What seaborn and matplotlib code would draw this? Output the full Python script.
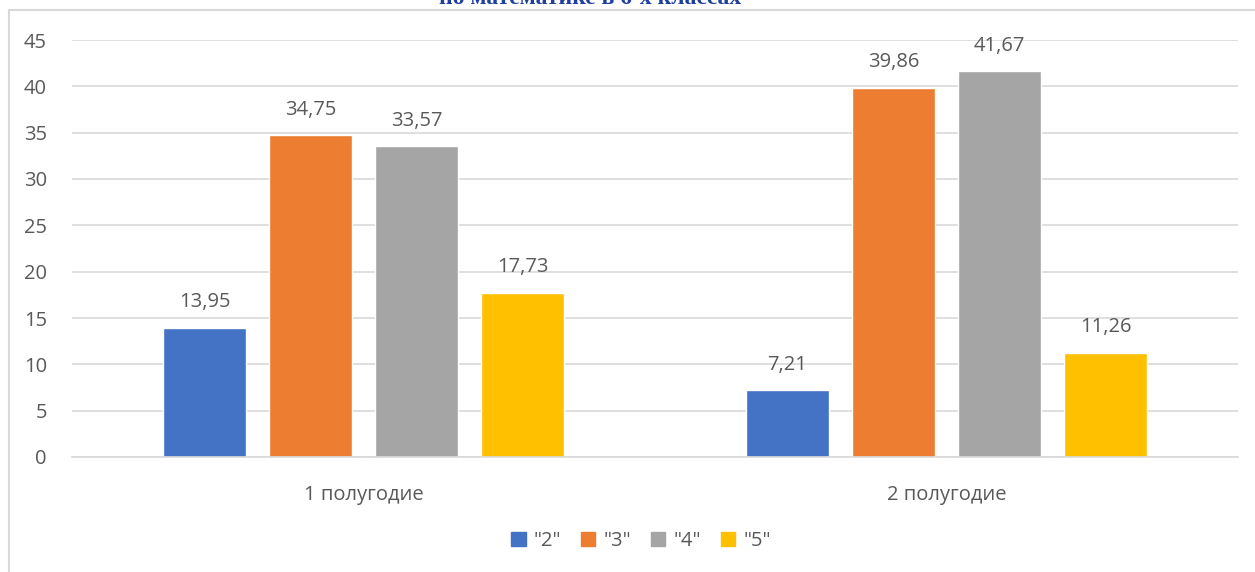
import pandas as pd
import seaborn as sns
import matplotlib.pyplot as plt
from matplotlib.patches import Rectangle
from matplotlib.lines import Line2D

# data
periods = ["1 полугодие", "2 полугодие"]
grades = ['"2"', '"3"', '"4"', '"5"']
grade2 = [13.95, 7.21]
grade3 = [34.75, 39.86]
grade4 = [33.57, 41.67]
grade5 = [17.73, 11.26]
colors = ["#4472C4", "#ED7D31", "#A5A5A5", "#FFC000"]

rows = []
for g, vals in zip(grades, [grade2, grade3, grade4, grade5]):
    for p, v in zip(periods, vals):
        rows.append({"period": p, "grade": g, "value": v})
df = pd.DataFrame(rows)

sns.set_style("white")
plt.rcParams['font.family'] = ['Open Sans', 'DejaVu Sans']
text_col = "#595959"
fs = 14.5

fig = plt.figure(figsize=(12.55, 5.72), dpi=100)
ax = fig.add_axes([72 / 1255, 1 - 457 / 572, (1238 - 72) / 1255, (457 - 40) / 572])

sns.barplot(data=df, x="period", y="value", hue="grade", order=periods,
            hue_order=grades, palette=colors, width=0.727, gap=0.22,
            saturation=1, ax=ax, legend=False)

ax.set_xlim(-0.5, 1.5)
ax.set_ylim(0, 45)
ax.set_yticks(range(0, 46, 5))
ax.yaxis.grid(True, color="#D9D9D9", lw=1.2)
ax.set_axisbelow(True)
for s in ["top", "right", "left"]:
    ax.spines[s].set_visible(False)
ax.spines["bottom"].set_color("#D9D9D9")
ax.spines["bottom"].set_linewidth(1.2)
ax.tick_params(axis="both", length=0, labelsize=fs, colors=text_col)
ax.tick_params(axis="x", pad=20)
ax.tick_params(axis="y", pad=18)
ax.set_xlabel("")
ax.set_ylabel("")

for c in ax.containers:
    labels = [f"{v:.2f}".replace(".", ",") for v in c.datavalues]
    ax.bar_label(c, labels=labels, padding=11, fontsize=fs, color=text_col)

handles = [Rectangle((0, 0), 1, 1, color=col) for col in colors]
fig.legend(handles, grades, loc="center", bbox_to_anchor=(641 / 1255, 1 - 541 / 572),
           ncol=4, frameon=False, fontsize=fs, labelcolor=text_col,
           handlelength=0.7, handleheight=0.7, handletextpad=0.4, columnspacing=1.0)

# chart border (cut by the image edge)
y_top = 1 - 10 / 572
x_left = 9 / 1255
fig.lines.append(Line2D([x_left, 1.0], [y_top, y_top], transform=fig.transFigure,
                        color="#D9D9D9", lw=1.5))
fig.lines.append(Line2D([x_left, x_left], [0, y_top], transform=fig.transFigure,
                        color="#D9D9D9", lw=1.5))

# title, mostly cut off at the top
fig.text(590 / 1255, 1 - 4 / 572, "по математике в 6-х классах", ha="center",
         va="baseline", fontsize=17, fontweight="bold", color="#1F3F9E",
         family=["Liberation Serif"])

fig.savefig("out.png", dpi=100)
